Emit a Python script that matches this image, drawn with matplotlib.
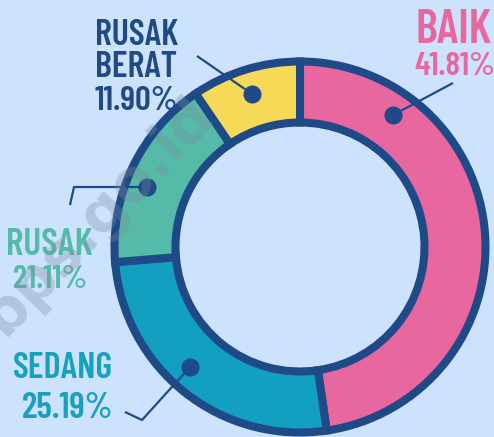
import numpy as np
import matplotlib.pyplot as plt

# data
kategori = ['BAIK', 'SEDANG', 'RUSAK', 'RUSAK BERAT']
persen = [41.81, 25.19, 21.11, 11.90]
# ukuran potongan seperti yang tergambar
porsi_gambar = [47.7, 26.0, 16.8, 9.5]
warna = ['#e9679f', '#139fc1', '#55bba8', '#f5d957']
warna_teks = ['#e9679f', '#17a0c0', '#55bba8', '#1f4a86']

W, H = 494, 437
NAVY = '#1e4a87'
BG = '#cde2fd'


def px(x, y):
    # koordinat piksel (y ke bawah) -> koordinat data
    return x, H - y


fig = plt.figure(figsize=(W / 100, H / 100), dpi=100, facecolor=BG)
ax = fig.add_axes([0, 0, 1, 1])
ax.set_facecolor(BG)

pusat = px(300, 247)
ax.pie(porsi_gambar, colors=warna, startangle=90, counterclock=False,
       radius=185.5, center=pusat,
       wedgeprops=dict(width=61, edgecolor=NAVY, linewidth=5.8))
ax.set_xlim(0, W)
ax.set_ylim(0, H)
ax.set_aspect('equal')
ax.axis('off')

# garis penunjuk + titik
garis = [
    [(393, 115), (453, 83)],
    [(190, 367), (142, 420), (125, 412)],
    [(147, 187), (74, 187), (70, 205)],
    [(252, 94), (197, 56)],
]
for g in garis:
    xs, ys = zip(*[px(*p) for p in g])
    ax.plot(xs, ys, color=NAVY, lw=1.6, zorder=5, solid_capstyle='butt')
    ax.plot(xs[0], ys[0], 'o', color=NAVY, ms=12, zorder=6)

fnt = ['Barlow Condensed', 'DejaVu Sans']
gaya = dict(family=fnt, fontweight='semibold', va='baseline')

# label
ax.text(*px(415, 43), kategori[0], color=warna_teks[0], fontsize=34,
        ha='left', **gaya)
ax.text(*px(414, 75), f'{persen[0]:.2f}%', color=warna_teks[0], fontsize=24,
        ha='left', **gaya)

ax.text(*px(95, 45), 'RUSAK', color=warna_teks[3], fontsize=26,
        ha='left', **gaya)
ax.text(*px(95, 77), 'BERAT', color=warna_teks[3], fontsize=26,
        ha='left', **gaya)
ax.text(*px(95, 110), f'{persen[3]:.2f}%', color=warna_teks[3], fontsize=25,
        ha='left', **gaya)

ax.text(*px(49, 255), kategori[2], color=warna_teks[2], fontsize=27,
        ha='center', **gaya)
ax.text(*px(50, 288), f'{persen[2]:.2f}%', color=warna_teks[2], fontsize=24,
        ha='center', **gaya)

ax.text(*px(113, 378), kategori[1], color=warna_teks[1], fontsize=26,
        ha='right', **gaya)
ax.text(*px(113, 418), f'{persen[1]:.2f}%', color=warna_teks[1], fontsize=26,
        ha='right', **gaya)

# watermark
ax.text(*px(98, 216), 'bps.go.id', color='#7d8ba0', alpha=0.33,
        fontsize=42, fontweight='bold', rotation=46,
        ha='center', va='center', zorder=10)

fig.savefig('out.png', dpi=100, facecolor=BG)
